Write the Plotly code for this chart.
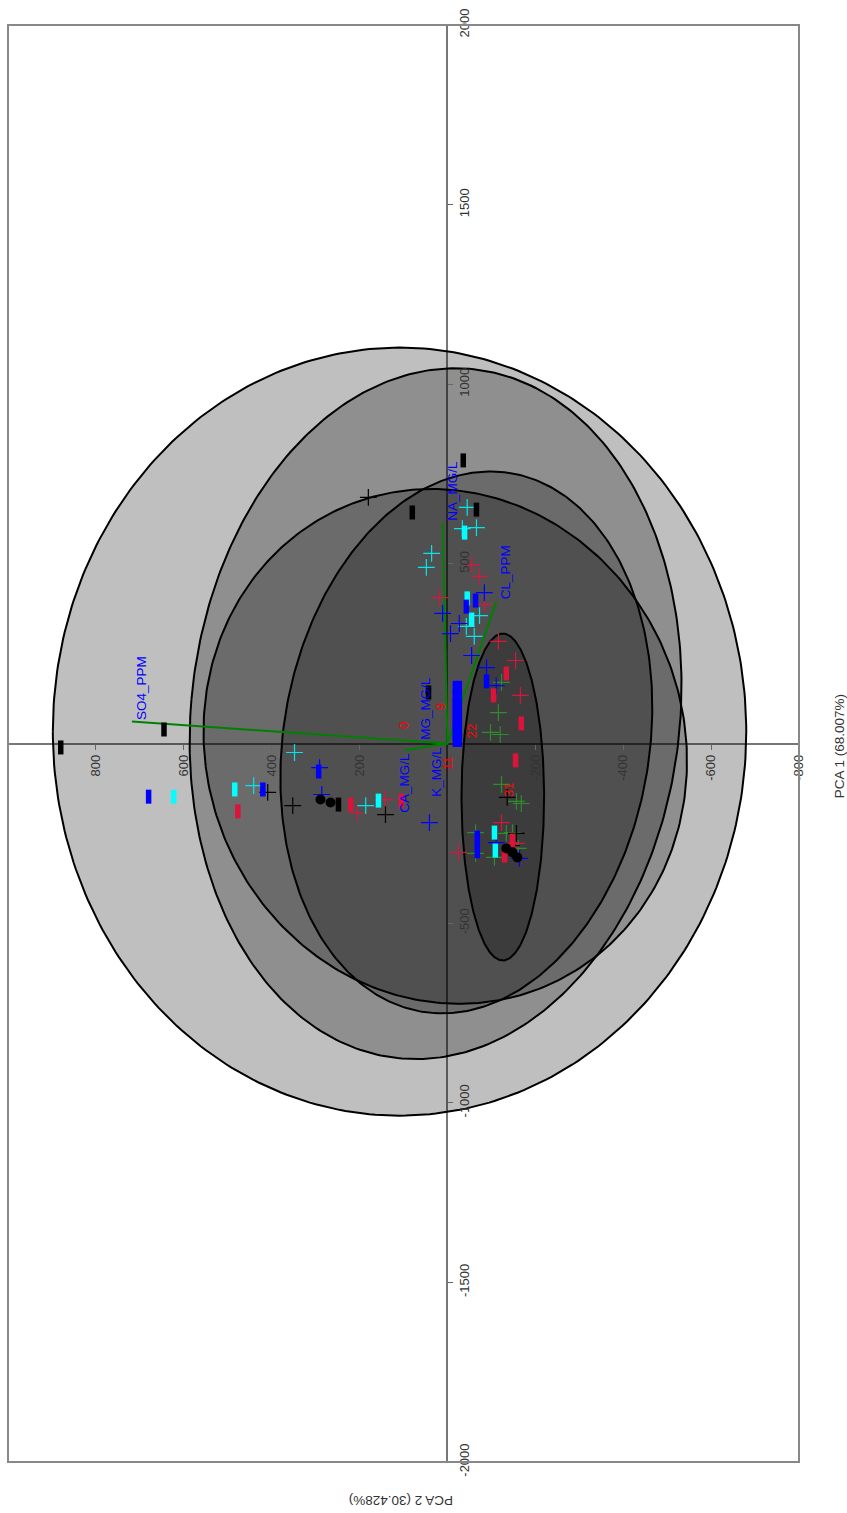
import numpy as np
import plotly.graph_objects as go

# ---------------- data (PCA 2 score, PCA 1 score) ----------------
pc1_ticks = [-2000, -1500, -1000, -500, 500, 1000, 1500, 2000]
pc2_ticks = [-800, -600, -400, -200, 200, 400, 600, 800]

# confidence ellipses: centre (pc2, pc1), semi-axes (pc2, pc1), angle (deg)
ell_c2 = [109, 27, 5, -43, -126]
ell_c1 = [33, 83, -8, 3, -149]
ell_a2 = [789, 557, 548, 418, 94]
ell_b1 = [1069, 963, 718, 757, 455]
ell_ang = [0, 4, -6, 6, 0]

black_rect_pc2 = [880, 645, 80, -36, -66, 43, 248]
black_rect_pc1 = [-11, 39, 643, 788, 651, 142, -170]
black_circ_pc2 = [289, 266, -134, -148, -159]
black_circ_pc1 = [-156, -164, -292, -303, -317]
black_cross_pc2 = [180, 409, 352, 141, -136, -157, -145]
black_cross_pc1 = [685, -136, -173, -198, -150, -250, -284]

blue_rect_pc2 = [680, 420, 293, -89, -43, -64, -68, -68,
                 -18, -18, -18, -18, -18, -18, -18, -18,
                 -27, -27, -27, -27, -27, -27, -27, -27]
blue_rect_pc1 = [-148, -128, -78, 173, 381, 398, -262, -300,
                 10, 30, 50, 70, 90, 110, 130, 155,
                 10, 30, 50, 70, 90, 110, 130, 155]
blue_cross_pc2 = [291, 286, -84, 11, -27, -7, -55, -89, -111, 41, -111, -164]
blue_cross_pc1 = [-67, -142, 420, 362, 334, 306, 245, 211, 161, -220, -276, -320]

cyan_rect_pc2 = [623, 484, 157, -39, -45, -55, -107, -109]
cyan_rect_pc1 = [-148, -128, -159, 587, 404, 345, -248, -298]
cyan_cross_pc2 = [348, 441, 186, -45, -34, -66, 36, 48, -73, -43, -61]
cyan_cross_pc1 = [-25, -117, -173, 657, 598, 601, 529, 490, 356, 326, 298]

red_rect_pc2 = [477, 220, 105, -134, -105, -168, -155, -148, -130]
red_rect_pc1 = [-189, -170, -159, 195, 134, 56, -47, -270, -312]
red_cross_pc2 = [205, 141, -55, -73, 18, -84, -116, -155, -166, -123, -25, -157]
red_cross_pc1 = [-192, -156, 498, 465, 406, 387, 284, 231, 134, -220, -303, -278]

green_cross_pc2 = [-123, -116, -98, -120, -123, -157, -168, -64, -134, -148, -64, -107, -161]
green_cross_pc1 = [170, 86, 31, 25, -114, -161, -167, -248, -250, -248, -306, -317, -292]

sample_ids = ["0", "9", "22", "11", "31"]
sample_pc2 = [100, 16, -55, 0, -139]
sample_pc1 = [50, 103, 33, -53, -131]

load_names = ["NA_MG/L", "CL_PPM", "SO4_PPM", "CA_MG/L", "MG_MG/L", "K_MG/L"]
load_pc2 = [11, -111, 718, 98, 50, 25]
load_pc1 = [615, 395, 61, -19, 5, -2]

# ---------------- figure ----------------
fig = go.Figure()

t = np.linspace(0, 2 * np.pi, 361)
for c2, c1, a, b, ang in zip(ell_c2, ell_c1, ell_a2, ell_b1, ell_ang):
    r = np.deg2rad(ang)
    ex = c2 + a * np.cos(t) * np.cos(r) - b * np.sin(t) * np.sin(r)
    ey = c1 + a * np.cos(t) * np.sin(r) + b * np.sin(t) * np.cos(r)
    fig.add_trace(go.Scatter(x=ex, y=ey, mode="lines", fill="toself",
                             fillcolor="rgba(0,0,0,0.25)",
                             line=dict(color="black", width=2),
                             hoverinfo="skip", showlegend=False))

# loading vectors
for n, x2, y1 in zip(load_names, load_pc2, load_pc1):
    fig.add_trace(go.Scatter(x=[0, x2], y=[0, y1], mode="lines",
                             line=dict(color="#008000", width=2),
                             showlegend=False, hoverinfo="skip"))

def rects(x, y, color):
    fig.add_trace(go.Scatter(x=x, y=y, mode="markers", showlegend=False,
                             marker=dict(symbol="line-ns", size=10,
                                         line=dict(color=color, width=5.5))))

def crosses(x, y, color):
    fig.add_trace(go.Scatter(x=x, y=y, mode="markers", showlegend=False,
                             marker=dict(symbol="cross-thin", size=12,
                                         line=dict(color=color, width=1.2))))

crosses(green_cross_pc2, green_cross_pc1, "#2e8b2e")
crosses(red_cross_pc2, red_cross_pc1, "#dc143c")
crosses(cyan_cross_pc2, cyan_cross_pc1, "#00e5ee")
crosses(blue_cross_pc2, blue_cross_pc1, "#0000ff")
crosses(black_cross_pc2, black_cross_pc1, "#000000")
rects(red_rect_pc2, red_rect_pc1, "#dc143c")
rects(cyan_rect_pc2, cyan_rect_pc1, "#00ffff")
rects(blue_rect_pc2, blue_rect_pc1, "#0000ff")
rects(black_rect_pc2, black_rect_pc1, "#000000")
fig.add_trace(go.Scatter(x=black_circ_pc2, y=black_circ_pc1, mode="markers",
                         showlegend=False,
                         marker=dict(symbol="circle", size=10, color="black")))

ann = []
for s, x2, y1 in zip(sample_ids, sample_pc2, sample_pc1):
    ann.append(dict(x=x2, y=y1, text=s, showarrow=False, textangle=-90,
                    font=dict(color="#ff0000", size=13, family="Liberation Sans"),
                    xanchor="center", yanchor="middle"))

# label placement relative to tip
anchors = {"NA_MG/L": ("left", "bottom"), "CL_PPM": ("left", "bottom"),
           "SO4_PPM": ("left", "bottom"), "CA_MG/L": ("center", "top"),
           "MG_MG/L": ("center", "bottom"), "K_MG/L": ("center", "top")}
for n, x2, y1 in zip(load_names, load_pc2, load_pc1):
    xa, ya = anchors[n]
    ann.append(dict(x=x2, y=y1, text=n, showarrow=False, textangle=-90,
                    font=dict(color="#0000ff", size=13.5, family="Liberation Sans"),
                    xanchor=xa, yanchor=ya))

ann.append(dict(xref="paper", yref="paper", x=1.0505, y=0.498,
                text="PCA 1 (68.007%)", showarrow=False, textangle=-90,
                font=dict(color="#333333", size=13.5, family="Liberation Sans"),
                xanchor="center", yanchor="middle"))
ann.append(dict(xref="paper", yref="paper", x=0.4975, y=-0.0264,
                text="PCA 2 (30.428%)", showarrow=False, textangle=180,
                font=dict(color="#333333", size=13.5, family="Liberation Sans"),
                xanchor="center", yanchor="middle"))

fig.update_layout(
    width=847, height=1513,
    margin=dict(l=8, r=48, t=25, b=51),
    plot_bgcolor="white", paper_bgcolor="white",
    annotations=ann,
    shapes=[dict(type="rect", xref="paper", yref="paper", x0=0, x1=1, y0=0, y1=1,
                 line=dict(color="#888888", width=2), layer="above")],
    xaxis=dict(range=[1000, -800], anchor="free", position=0.5,
               tickvals=pc2_ticks, ticktext=[str(v) for v in pc2_ticks],
               tickangle=-90, ticks="outside", ticklen=5, tickcolor="#666666",
               showgrid=False, zeroline=True, zerolinecolor="#777777", zerolinewidth=1.5,
               tickfont=dict(size=13, color="#333333", family="Liberation Sans")),
    yaxis=dict(range=[-2000, 2000], anchor="free", position=1000 / 1800, side="right",
               tickvals=pc1_ticks, ticktext=[str(v) for v in pc1_ticks],
               tickangle=-90, ticks="outside", ticklen=5, tickcolor="#666666",
               showgrid=False, zeroline=True, zerolinecolor="#777777", zerolinewidth=1.5,
               tickfont=dict(size=13, color="#333333", family="Liberation Sans")),
)

fig.write_html("out.html")
